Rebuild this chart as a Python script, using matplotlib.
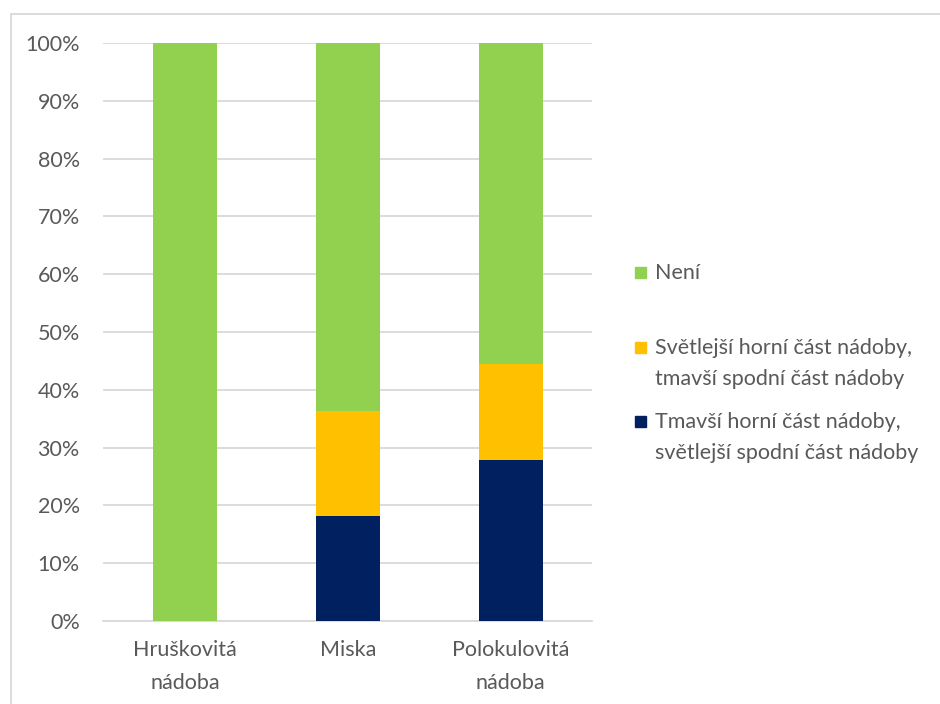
import matplotlib.pyplot as plt
from matplotlib.patches import Rectangle
from matplotlib.ticker import PercentFormatter

# shares per vessel shape (fractions of 1)
categories = ['Hruškovitá\nnádoba', 'Miska', 'Polokulovitá\nnádoba']
tmavsi_horni = [0.0, 0.182, 0.278]
svetlejsi_horni = [0.0, 0.182, 0.167]
neni = [1.0, 0.636, 0.555]

series_labels = ['Není',
                 'Světlejší horní část nádoby,\ntmavší spodní část nádoby',
                 'Tmavší horní část nádoby,\nsvětlejší spodní část nádoby']
colors = ['#92d050', '#ffc000', '#002060']

plt.rcParams['font.family'] = ['Lato', 'DejaVu Sans']
text_col = '#595959'
fs = 15.5

fig = plt.figure(figsize=(9.4, 7.04), dpi=100)
ax = fig.add_axes([0.110, 0.118, 0.520, 0.821])

x = range(len(categories))
w = 0.39
ax.bar(x, tmavsi_horni, w, color=colors[2], zorder=3)
ax.bar(x, svetlejsi_horni, w, bottom=tmavsi_horni, color=colors[1], zorder=3)
bottom2 = [a + b for a, b in zip(tmavsi_horni, svetlejsi_horni)]
ax.bar(x, neni, w, bottom=bottom2, color=colors[0], zorder=3)

ax.set_xlim(-0.5, 2.5)
ax.set_ylim(0, 1)
ax.set_yticks([i / 10 for i in range(11)])
ax.yaxis.set_major_formatter(PercentFormatter(1.0, decimals=0))
ax.set_xticks(list(x))
ax.set_xticklabels(categories, linespacing=1.8)
ax.tick_params(axis='both', length=0, labelsize=fs, labelcolor=text_col)
ax.tick_params(axis='y', pad=17)
ax.tick_params(axis='x', pad=14)
ax.grid(axis='y', color='#d9d9d9', linewidth=1.3, zorder=0)
for s in ['top', 'right', 'left']:
    ax.spines[s].set_visible(False)
ax.spines['bottom'].set_color('#d9d9d9')
ax.spines['bottom'].set_linewidth(1.3)

# legend drawn by hand so the gaps follow the two-line entries
legend_y = [272, 347, 421]
for lab, col, yy in zip(series_labels, colors, legend_y):
    fy = 1 - yy / 704
    fig.patches.append(Rectangle((635 / 940, fy - 5.5 / 704), 11 / 940, 11 / 704,
                                 transform=fig.transFigure, color=col))
    fig.text(655 / 940, fy + 9 / 704, lab, fontsize=fs, color=text_col,
             va='top', ha='left', linespacing=1.68)

# chart frame
fig.patches.append(Rectangle((10.5 / 940, -0.05), 1.0, 1 - 13.5 / 704 + 0.05,
                             transform=fig.transFigure, fill=False,
                             edgecolor='#d9d9d9', linewidth=1.3))

fig.savefig('out.png', dpi=100)
